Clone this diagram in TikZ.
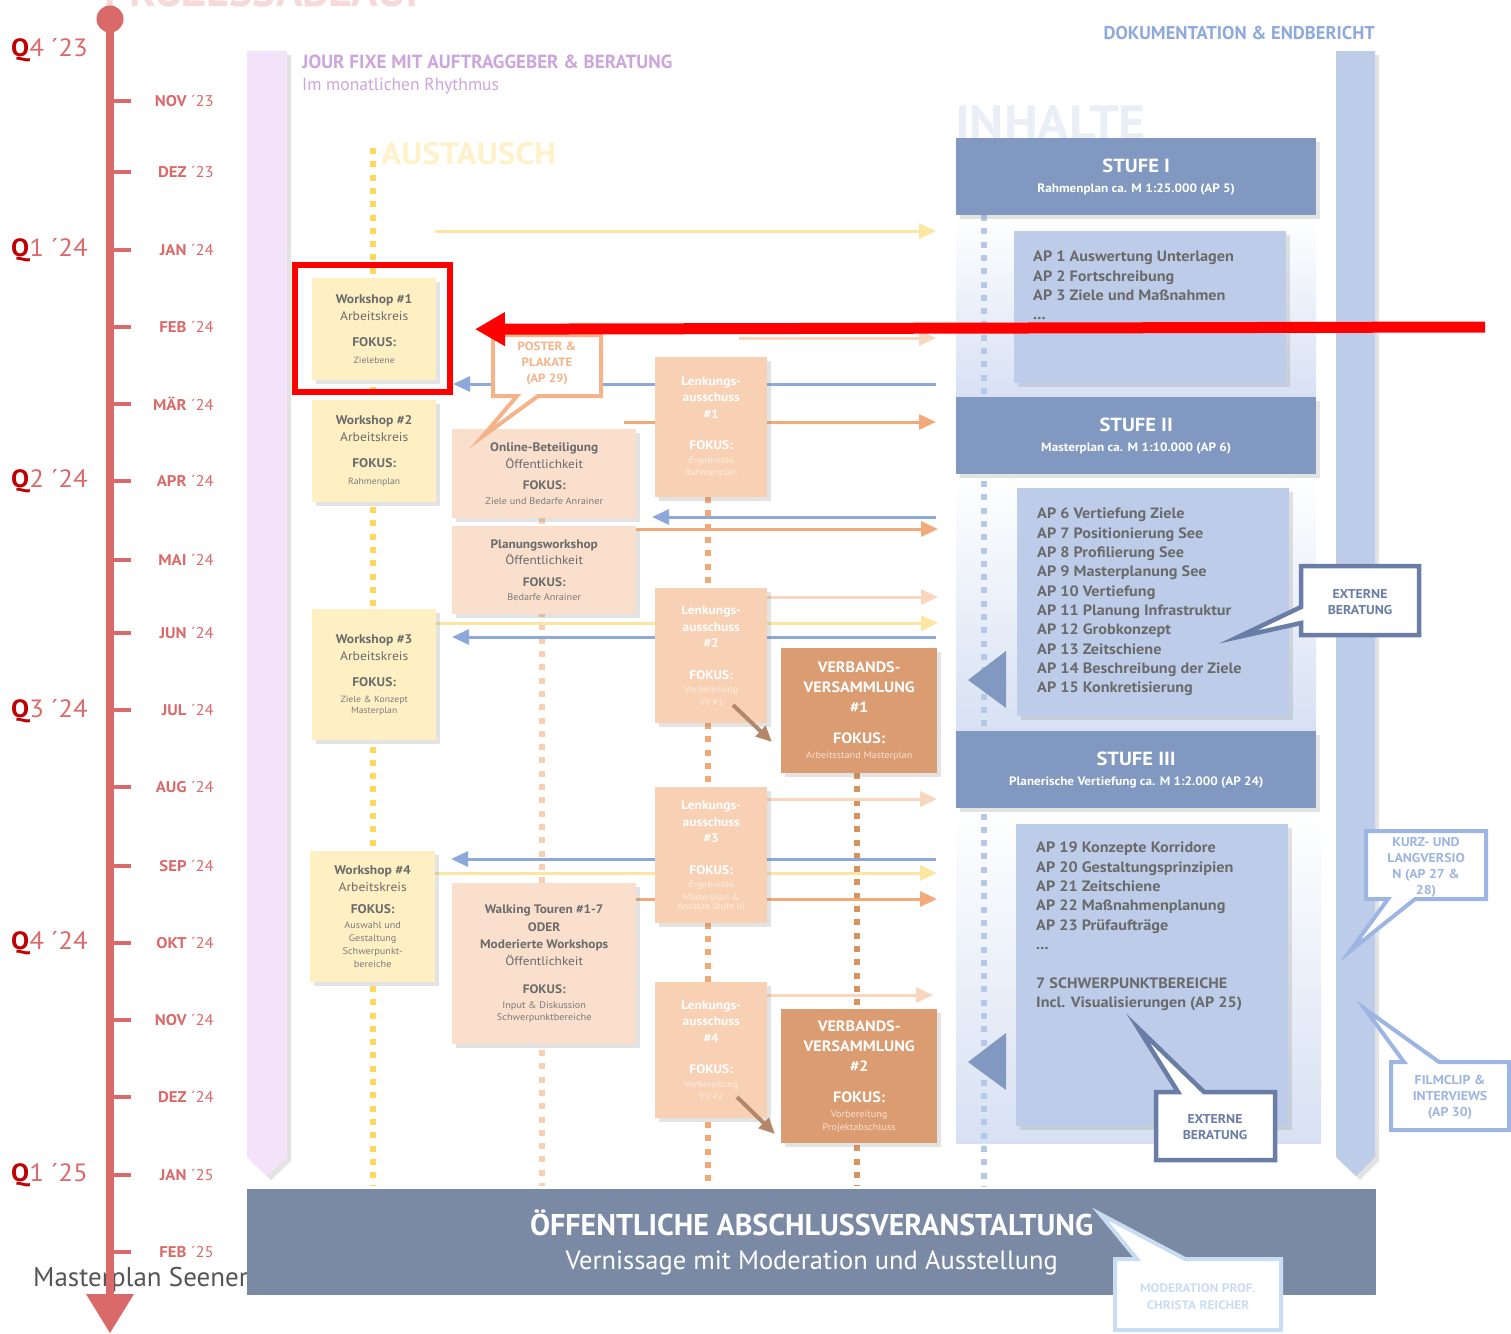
\documentclass[tikz,border=0pt]{standalone}
\usepackage{fontspec}
\setmainfont{PT Sans}[FakeStretch=1.08]
\newfontfamily\cond{PT Sans}
\usetikzlibrary{arrows.meta,shadows,calc}
\pgfdeclarelayer{back}
\pgfdeclarelayer{mid}
\pgfsetlayers{back,mid,main}
\newcommand\fsz[2]{\fontsize{#1}{#2}\selectfont}
\definecolor{tlred}{HTML}{DA6A6A}
\definecolor{qred}{HTML}{C00000}
\definecolor{lav}{HTML}{F3E2F9}
\definecolor{lavtxt}{HTML}{CDA5DD}
\definecolor{ylwbox}{HTML}{FFF0C3}
\definecolor{ylwdot}{HTML}{FFD75E}
\definecolor{ylwarr}{HTML}{FDE5A2}
\definecolor{austxt}{HTML}{FFF1C9}
\definecolor{pchcol}{HTML}{F9DFCC}
\definecolor{pchdot}{HTML}{F7CFB3}
\definecolor{lacol}{HTML}{F8D0B3}
\definecolor{ladot}{HTML}{F3A976}
\definecolor{lasm}{HTML}{FDEDE2}
\definecolor{vvcol}{HTML}{DB9C72}
\definecolor{vvdot}{HTML}{D8925E}
\definecolor{vvsm}{HTML}{F7E2D3}
\definecolor{orarr}{HTML}{F2AA7B}
\definecolor{lparr}{HTML}{F9D6BE}
\definecolor{bluarr}{HTML}{8DA8DB}
\definecolor{stufecol}{HTML}{8199C0}
\definecolor{apcol}{HTML}{BDCCE9}
\definecolor{bludot}{HTML}{B7C7E7}
\definecolor{aptxt}{HTML}{6A6A6A}
\definecolor{doktxt}{HTML}{8EA9DB}
\definecolor{extb}{HTML}{6A7DA6}
\definecolor{kurzb}{HTML}{9DB5E3}
\definecolor{bannercol}{HTML}{7B8AA4}
\definecolor{modb}{HTML}{C9DDF2}
\definecolor{boxtxt}{HTML}{6B6B6B}
\definecolor{boxsm}{HTML}{7A7A7A}
\definecolor{brownarr}{HTML}{B5876A}
\definecolor{inhtxt}{HTML}{E9EEF7}
\definecolor{panelbot}{HTML}{D7E1F3}
\definecolor{postercol}{HTML}{F5B389}
\definecolor{prozess}{HTML}{F7D9D9}
\definecolor{mastertxt}{HTML}{555555}
\tikzset{
 shad/.style={drop shadow={opacity=0.22,shadow xshift=4pt,shadow yshift=-4pt}},
 bx/.style={shad,anchor=north west,inner sep=0pt,align=center},
 wsbox/.style={bx,fill=ylwbox,text=boxtxt,font=\fsz{12.6}{17}},
 pchbox/.style={bx,fill=pchcol,text=boxtxt,font=\fsz{12.3}{16.5}},
 labx/.style={bx,fill=lacol,text=white,font=\bfseries\fsz{12.5}{16.5}},
 vvbx/.style={bx,fill=vvcol,text=white,font=\bfseries\fsz{15}{20}},
 stufebx/.style={bx,fill=stufecol,text=white,font=\bfseries\fsz{12.2}{20}},
 apbx/.style={bx,fill=apcol},
 aptext/.style={anchor=north west,inner sep=0pt,align=left,text=aptxt,font=\bfseries\fsz{15}{19.3}},
 cotext/.style={inner sep=0pt,align=center,font=\bfseries\fsz{12}{16}},
 mlab/.style={anchor=east,inner sep=0pt,text=tlred,font=\fsz{15.5}{17}},
 qlab/.style={anchor=west,inner sep=0pt,text=tlred,font=\fsz{25}{28}},
 dotl/.style={line width=6pt,dash pattern=on 6pt off 7.3pt},
 harr/.style={line width=3pt,-{Triangle[length=17pt,width=15pt]}},
 yarr/.style={harr,draw=ylwarr},
 parr/.style={harr,draw=lparr},
 oarr/.style={harr,draw=orarr},
 barr/.style={harr,draw=bluarr},
 brarr/.style={line width=4pt,draw=brownarr,-{Triangle[length=16pt,width=14pt]}},
}
\begin{document}
\begin{tikzpicture}[x=1pt,y=-1pt]
\useasboundingbox (0,0) rectangle (1511,1333);

%================ BACK LAYER
\begin{pgfonlayer}{back}
\fill[white] (0,0) rectangle (1511,1333);
\begin{scope}
\clip (0,0) rectangle (1511,1333);
\node[anchor=base west,inner sep=0pt,text=prozess,font=\cond\bfseries\fsz{44}{44}] (proz) at (104,6) {PROZESSABLAUF};
\end{scope}
% jour fixe bar
\fill[lav,shad] (247,51) -- (287,51) -- (287,1157) -- (267,1176) -- (247,1157) -- cycle;
% doc bar
\fill[apcol,shad] (1336,51) -- (1375,51) -- (1375,1157) -- (1356,1176) -- (1336,1157) -- cycle;
% panels
\shade[top color=white,bottom color=panelbot] (956,215) rectangle (1316,397);
\shade[top color=white,bottom color=panelbot] (956,474) rectangle (1316,731);
\shade[top color=white,bottom color=panelbot] (956,808) rectangle (1321,1143);
% big faded titles
\node[anchor=base west,inner sep=0pt,text=inhtxt,font=\bfseries\fsz{48}{48}] (inh) at (955,139) {INHALTE};
\node[anchor=base west,inner sep=0pt,text=austxt,font=\bfseries\fsz{31}{31}] (aus) at (381,164) {AUSTAUSCH};
\node[anchor=west,inner sep=0pt,text=lavtxt,font=\cond\bfseries\fsz{19}{22}] (jf) at (302,62) {JOUR FIXE MIT AUFTRAGGEBER \& BERATUNG};
\node[anchor=west,inner sep=0pt,text=lavtxt,font=\cond\fsz{17.5}{22}] (jf2) at (302,86) {Im monatlichen Rhythmus};
\node[anchor=east,inner sep=0pt,text=doktxt,font=\cond\bfseries\fsz{18.5}{22}] (dok) at (1375,33) {DOKUMENTATION \& ENDBERICHT};
\end{pgfonlayer}

%================ MAIN: boxes
\node[wsbox,minimum width=124pt,minimum height=102pt] (ws1) at (312,278)
 {{\bfseries Workshop \#1}\\Arbeitskreis\\[9pt]{\bfseries FOKUS:}\\{\fsz{9}{12}\color{boxsm}Zielebene}};
\node[wsbox,minimum width=124pt,minimum height=102pt] (ws2) at (312,400)
 {{\bfseries Workshop \#2}\\Arbeitskreis\\[9pt]{\bfseries FOKUS:}\\{\fsz{9}{12}\color{boxsm}Rahmenplan}};
\node[wsbox,minimum width=124pt,minimum height=131pt] (ws3) at (312,609)
 {{\bfseries Workshop \#3}\\Arbeitskreis\\[9pt]{\bfseries FOKUS:}\\[-1pt]{\fsz{9}{12}\color{boxsm}Ziele \& Konzept}\\[-6pt]{\fsz{9}{12}\color{boxsm}Masterplan}};
\node[wsbox,minimum width=125pt,minimum height=131pt] (ws4) at (310,851)
 {{\bfseries Workshop \#4}\\Arbeitskreis\\[5pt]{\bfseries FOKUS:}\\[-2pt]{\fsz{9.5}{12}\color{boxsm}Auswahl und}\\[-4pt]{\fsz{9.5}{12}\color{boxsm}Gestaltung}\\[-4pt]{\fsz{9.5}{12}\color{boxsm}Schwerpunkt-}\\[-4pt]{\fsz{9.5}{12}\color{boxsm}bereiche}};

\node[pchbox,minimum width=184pt,minimum height=89pt] (onl) at (452,429)
 {{\bfseries Online-Beteiligung}\\Öffentlichkeit\\[5pt]{\bfseries FOKUS:}\\[-2pt]{\fsz{9.5}{12}\color{boxsm}Ziele und Bedarfe Anrainer}};
\node[pchbox,minimum width=184pt,minimum height=88pt] (plw) at (452,526)
 {{\bfseries Planungsworkshop}\\Öffentlichkeit\\[5pt]{\bfseries FOKUS:}\\[-2pt]{\fsz{9.5}{12}\color{boxsm}Bedarfe Anrainer}};
\node[pchbox,minimum width=184pt,minimum height=161pt,font=\fsz{12.3}{17.5}] (wlk) at (452,883)
 {{\bfseries Walking Touren \#1-7}\\{\bfseries ODER}\\{\bfseries Moderierte Workshops}\\[-1pt]Öffentlichkeit\\[11pt]{\bfseries FOKUS:}\\[-3pt]{\fsz{9.5}{12}\color{boxsm}Input \& Diskussion}\\[-5pt]{\fsz{9.5}{12}\color{boxsm}Schwerpunktbereiche}};

\node[labx,minimum width=112pt,minimum height=140pt] (la1) at (655,357)
 {Lenkungs-\\ausschuss\\\#1\\[15pt]FOKUS:\\[-3pt]{\fsz{9}{12}\mdseries\color{lasm}Ergebnisse}\\[-4pt]{\fsz{9}{12}\mdseries\color{lasm}Rahmenplan}};
\node[labx,minimum width=112pt,minimum height=135pt] (la2) at (655,588)
 {Lenkungs-\\ausschuss\\\#2\\[15pt]FOKUS:\\[-3pt]{\fsz{9}{12}\mdseries\color{lasm}Vorbereitung}\\[-4pt]{\fsz{9}{12}\mdseries\color{lasm}VV \#1}};
\node[labx,minimum width=112pt,minimum height=136pt] (la3) at (655,787)
 {Lenkungs-\\ausschuss\\\#3\\[15pt]FOKUS:\\[-3pt]{\fsz{9}{12}\mdseries\color{lasm}Ergebnisse}\\[-4pt]{\fsz{9}{12}\mdseries\color{lasm}Masterplan \&}\\[-7pt]{\fsz{9}{12}\mdseries\color{lasm}Ansätze Stufe III}};
\node[labx,minimum width=112pt,minimum height=136pt] (la4) at (655,982)
 {Lenkungs-\\ausschuss\\\#4\\[15pt]FOKUS:\\[-3pt]{\fsz{9}{12}\mdseries\color{lasm}Vorbereitung}\\[-4pt]{\fsz{9}{12}\mdseries\color{lasm}VV \#2}};

\node[vvbx,minimum width=156pt,minimum height=125pt] (vv1) at (781,648)
 {VERBANDS-\\VERSAMMLUNG\\\#1\\[11pt]FOKUS:\\[-5pt]{\fsz{9.5}{12}\mdseries\color{vvsm}Arbeitsstand Masterplan}};
\node[vvbx,minimum width=156pt,minimum height=134pt] (vv2) at (781,1009)
 {VERBANDS-\\VERSAMMLUNG\\\#2\\[11pt]FOKUS:\\[-5pt]{\fsz{9.5}{12}\mdseries\color{vvsm}Vorbereitung}\\[-7pt]{\fsz{9.5}{12}\mdseries\color{vvsm}Projektabschluss}};

\node[stufebx,minimum width=360pt,minimum height=77pt] (s1) at (956,138)
 {{\fsz{19}{22}STUFE I}\\Rahmenplan ca. M 1:25.000 (AP 5)};
\node[stufebx,minimum width=360pt,minimum height=77pt] (s2) at (956,397)
 {{\fsz{19}{22}STUFE II}\\Masterplan ca. M 1:10.000 (AP 6)};
\node[stufebx,minimum width=360pt,minimum height=77pt] (s3) at (956,731)
 {{\fsz{19}{22}STUFE III}\\Planerische Vertiefung ca. M 1:2.000 (AP 24)};

\node[apbx,minimum width=272pt,minimum height=152pt] (ap1) at (1014,231) {};
\node[apbx,minimum width=272pt,minimum height=228pt] (ap2) at (1017,488) {};
\node[apbx,minimum width=272pt,minimum height=302pt] (ap3) at (1016,824) {};
\node[aptext] (ap1t) at (1033,251) {AP 1 Auswertung Unterlagen\\AP 2 Fortschreibung\\AP 3 Ziele und Maßnahmen\\...};
\node[aptext] (ap2t) at (1037,508) {AP 6 Vertiefung Ziele\\AP 7 Positionierung See\\AP 8 Profilierung See\\AP 9 Masterplanung See\\AP 10 Vertiefung\\AP 11 Planung Infrastruktur\\AP 12 Grobkonzept\\AP 13 Zeitschiene\\AP 14 Beschreibung der Ziele\\AP 15 Konkretisierung};
\node[aptext] (ap3t) at (1036,842) {AP 19 Konzepte Korridore\\AP 20 Gestaltungsprinzipien\\AP 21 Zeitschiene\\AP 22 Maßnahmenplanung\\AP 23 Prüfaufträge\\...\\[19.3pt]7 SCHWERPUNKTBEREICHE\\Incl. Visualisierungen (AP 25)};

% left-pointing triangles
\fill[stufecol] (1006,651) -- (1006,708) -- (968,680) -- cycle;
\fill[stufecol] (1006,1033) -- (1006,1090) -- (968,1062) -- cycle;

%================ MID LAYER: dotted lines and arrows
\begin{pgfonlayer}{mid}
\coordinate (yT) at (373,148); \coordinate (yB) at (373,1186);
\coordinate (pT) at (542,518); \coordinate (pB) at (542,1186);
\coordinate (lT) at (708,497); \coordinate (lB) at (708,1186);
\coordinate (vT) at (857,773); \coordinate (vB) at (857,1186);
\coordinate (bT) at (984,215); \coordinate (bB) at (984,1186);
\draw[dotl,ylwdot] (yT) -- (yB);
\draw[dotl,pchdot] (pT) -- (pB);
\draw[dotl,ladot] (lT) -- (lB);
\draw[dotl,vvdot] (vT) -- (vB);
\draw[dotl,bludot] (bT) -- (bB);
% arrows
\coordinate (a1s) at (435,231); \coordinate (a1e) at (936,231);
\coordinate (a2s) at (739,338); \coordinate (a2e) at (936,338);
\coordinate (a3s) at (936,384); \coordinate (a3e) at (453,384);
\coordinate (a4s) at (624,422); \coordinate (a4e) at (936,422);
\coordinate (a5s) at (936,517); \coordinate (a5e) at (652,517);
\coordinate (a6s) at (636,529); \coordinate (a6e) at (938,529);
\coordinate (a7s) at (767,597); \coordinate (a7e) at (938,597);
\coordinate (a8s) at (436,623); \coordinate (a8e) at (938,623);
\coordinate (a9s) at (936,637); \coordinate (a9e) at (452,637);
\coordinate (a10s) at (767,799); \coordinate (a10e) at (937,799);
\coordinate (a11s) at (936,859); \coordinate (a11e) at (451,859);
\coordinate (a12s) at (435,873); \coordinate (a12e) at (937,873);
\coordinate (a13s) at (636,899); \coordinate (a13e) at (937,899);
\coordinate (a14s) at (767,995); \coordinate (a14e) at (933,995);
\draw[yarr] (a1s) -- (a1e);
\draw[parr] (a2s) -- (a2e);
\draw[barr] (a3s) -- (a3e);
\draw[oarr] (a4s) -- (a4e);
\draw[barr] (a5s) -- (a5e);
\draw[oarr] (a6s) -- (a6e);
\draw[parr] (a7s) -- (a7e);
\draw[yarr] (a8s) -- (a8e);
\draw[barr] (a9s) -- (a9e);
\draw[parr] (a10s) -- (a10e);
\draw[barr] (a11s) -- (a11e);
\draw[yarr] (a12s) -- (a12e);
\draw[oarr] (a13s) -- (a13e);
\draw[parr] (a14s) -- (a14e);
\end{pgfonlayer}

% brown diagonal arrows LA -> VV
\coordinate (br1s) at (733,705); \coordinate (br1e) at (772,742);
\coordinate (br2s) at (737,1097); \coordinate (br2e) at (775,1134);
\draw[brarr] (br1s) -- (br1e);
\draw[brarr] (br2s) -- (br2e);

%================ callouts
\filldraw[fill=white,draw=postercol,line width=4pt,line join=miter]
 (493,335) -- (601,335) -- (601,396) -- (538,396) -- (482,437) -- (517,396) -- (493,396) -- cycle;
\node[cotext,text=postercol] (postt) at (547,364) {POSTER \&\\PLAKATE\\(AP 29)};

\filldraw[fill=white,draw=extb,line width=4.5pt]
 (1301,566) -- (1419,566) -- (1419,635) -- (1301,635) -- (1301,623) -- (1238,637) -- (1301,607) -- cycle;
\node[cotext,text=extb,font=\bfseries\fsz{12.8}{16}] (ext1) at (1360,602) {EXTERNE\\BERATUNG};

\filldraw[fill=white,draw=extb,line width=4.5pt]
 (1156,1092) -- (1178,1092) -- (1138,1028) -- (1204,1092) -- (1275,1092) -- (1275,1160) -- (1156,1160) -- cycle;
\node[cotext,text=extb,font=\bfseries\fsz{12.8}{16}] (ext2) at (1215,1127) {EXTERNE\\BERATUNG};

\filldraw[fill=white,draw=kurzb,line width=4pt]
 (1366,831) -- (1486,831) -- (1486,899) -- (1415,899) -- (1350,951) -- (1388,899) -- (1366,899) -- cycle;
\node[cotext,text=kurzb,font=\bfseries\fsz{12.8}{16}] (kurz) at (1426,867) {KURZ- UND\\LANGVERSIO\\N (AP 27 \&\\28)};

\filldraw[fill=white,draw=kurzb,line width=4pt]
 (1391,1062) -- (1404,1062) -- (1365,1009) -- (1439,1062) -- (1509,1062) -- (1509,1130) -- (1391,1130) -- cycle;
\node[cotext,text=kurzb,font=\bfseries\fsz{12.8}{16}] (film) at (1450,1097) {FILMCLIP \&\\INTERVIEWS\\(AP 30)};

%================ bottom
\node[anchor=west,inner sep=0pt,text=mastertxt,font=\cond\fsz{27}{30}] (mst) at (33,1280) {Masterplan Seener};

\node[anchor=north west,inner sep=0pt,fill=bannercol,text=white,align=center,minimum width=1129pt,minimum height=106pt,font=\cond\fsz{26.5}{34}] (ban) at (247,1189)
 {{\bfseries\fsz{30}{34}ÖFFENTLICHE ABSCHLUSSVERANSTALTUNG}\\Vernissage mit Moderation und Ausstellung};

\filldraw[fill=white,draw=modb,line width=4pt]
 (1115,1259) -- (1137,1259) -- (1100,1214) -- (1185,1259) -- (1281,1259) -- (1281,1330) -- (1115,1330) -- cycle;
\node[cotext,text=modb,font=\bfseries\fsz{12.3}{17}] (mod) at (1198,1297) {MODERATION PROF.\\CHRISTA REICHER};

%================ timeline
\draw[tlred,line width=8pt] (110,19) -- (110,1300);
\fill[tlred] (110,19) circle (13.5);
\fill[tlred] (86,1294) -- (134,1294) -- (110,1333) -- cycle;
\foreach \y in {101,172,250,327,404,481,560,633,710,787,866,943,1020,1097,1175,1252}
 \draw[tlred,line width=4.5pt] (110,\y) -- (131,\y);
\foreach \m/\yy/\y in {NOV/23/101,DEZ/23/172,JAN/24/250,FEB/24/327,MÄR/24/404,APR/24/481,MAI/24/560,JUN/24/633,JUL/24/710,AUG/24/787,SEP/24/866,OKT/24/943,NOV/24/1020,DEZ/24/1097,JAN/25/1175,FEB/25/1252}
 \node[mlab] (m\y) at (214,\y) {{\bfseries\m}\ ´\yy};
\foreach \q/\yy/\y in {4/23/50,1/24/250,2/24/481,3/24/711,4/24/943,1/25/1175}
 \node[qlab] (q\y) at (11,\y) {{\bfseries\color{qred}Q}\q\ ´\yy};

%================ red highlight
\draw[red,line width=6pt] (295,265) rectangle (450,392);
\coordinate (redS) at (1485,327);
\draw[red,line width=11pt,-{Triangle[length=30pt,width=32pt]}] (redS) -- (ws1.east -| 475,327);
\end{tikzpicture}
\end{document}
